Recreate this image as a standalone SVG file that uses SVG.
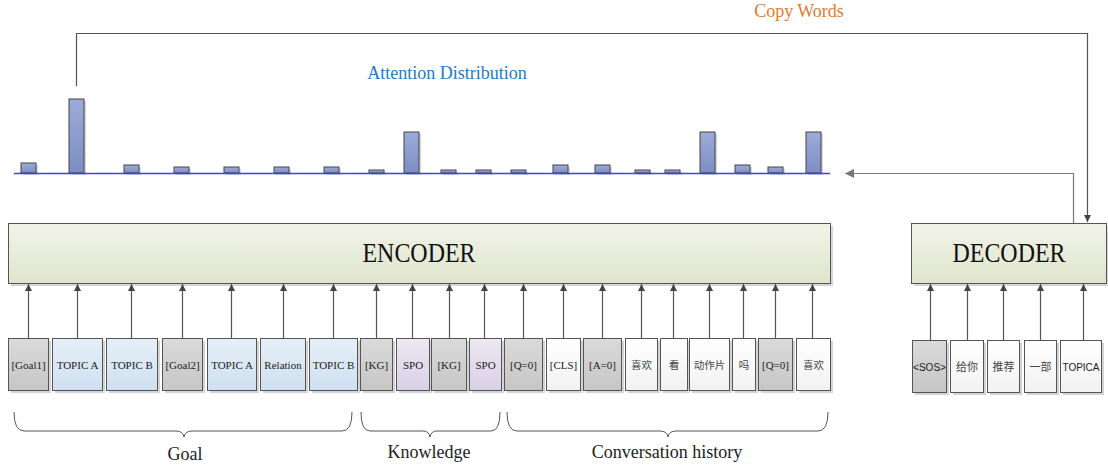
<svg xmlns="http://www.w3.org/2000/svg" width="1108" height="468" viewBox="0 0 1108 468">
<defs>
<linearGradient id="gEnc" x1="0" y1="0" x2="0" y2="1"><stop offset="0" stop-color="#f1f3e8"/><stop offset="1" stop-color="#dfe5cd"/></linearGradient>
<linearGradient id="gGray" x1="0" y1="0" x2="0" y2="1"><stop offset="0" stop-color="#dadada"/><stop offset="1" stop-color="#c6c6c6"/></linearGradient>
<linearGradient id="gBlue" x1="0" y1="0" x2="0" y2="1"><stop offset="0" stop-color="#e6eff8"/><stop offset="1" stop-color="#cfe0f0"/></linearGradient>
<linearGradient id="gPurp" x1="0" y1="0" x2="0" y2="1"><stop offset="0" stop-color="#ede8f3"/><stop offset="1" stop-color="#d9d0e6"/></linearGradient>
<linearGradient id="gWhite" x1="0" y1="0" x2="0" y2="1"><stop offset="0" stop-color="#ffffff"/><stop offset="1" stop-color="#f2f2f2"/></linearGradient>
<linearGradient id="gBar" x1="0" y1="0" x2="0" y2="1"><stop offset="0" stop-color="#9eabd8"/><stop offset="1" stop-color="#7d8dc4"/></linearGradient>
<marker id="ah" viewBox="0 0 8 8" refX="8" refY="4" markerWidth="7" markerHeight="7" markerUnits="userSpaceOnUse" orient="auto"><path d="M0 0 L8 4 L0 8 Z" fill="#444"/></marker>
<marker id="ahg" viewBox="0 0 8 8" refX="8" refY="4" markerWidth="9" markerHeight="9" markerUnits="userSpaceOnUse" orient="auto"><path d="M0 0 L8 4 L0 8 Z" fill="#777"/></marker>
</defs>
<style>
.box{stroke:#555;stroke-width:1}
.sh{fill:#d4d4d4}
.gray{fill:url(#gGray)}
.blue{fill:url(#gBlue)}
.purp{fill:url(#gPurp)}
.white{fill:url(#gWhite)}
.tok{font-family:"Liberation Serif","Noto Sans CJK SC",serif;font-size:11px;fill:#222;text-anchor:middle}
.cjk{font-family:"Noto Sans CJK SC",serif;font-size:10.5px;fill:#444;text-anchor:middle}
.dcjk{font-family:"Noto Sans CJK SC",serif;font-size:11px;fill:#444;text-anchor:middle}
.stok{font-family:"Liberation Sans",sans-serif;font-size:10px;fill:#222;text-anchor:middle}
.big{font-family:"Liberation Serif",serif;font-size:27px;fill:#111;text-anchor:middle}
.lab{font-family:"Liberation Serif",serif;font-size:18px;fill:#222;text-anchor:middle}
.bar{fill:url(#gBar);stroke:#444;stroke-width:1}
.bsh{fill:#d8d8d8}
.up{stroke:#555;stroke-width:1.2;fill:none;marker-end:url(#ah)}
.brace{stroke:#555;stroke-width:1;fill:none}
</style>

<g id="titles">
<text x="799" y="17" style="font-family:'Liberation Serif',serif;font-size:18px;fill:#e07b2e;text-anchor:middle">Copy Words</text>
<text x="447" y="79" style="font-family:'Liberation Serif',serif;font-size:18px;fill:#1b7bc9;text-anchor:middle">Attention Distribution</text>
</g>

<g id="attention">
<g class="bsh">
<rect x="23" y="165" width="15" height="10"/><rect x="71" y="101" width="15" height="74"/><rect x="126" y="167" width="15" height="8"/><rect x="176" y="169" width="15" height="6"/><rect x="226" y="169" width="15" height="6"/><rect x="276" y="169" width="15" height="6"/><rect x="326" y="169" width="15" height="6"/><rect x="371" y="172" width="15" height="3"/><rect x="406" y="134" width="15" height="41"/><rect x="443" y="172" width="15" height="3"/><rect x="478" y="172" width="15" height="3"/><rect x="513" y="172" width="15" height="3"/><rect x="555" y="167" width="15" height="8"/><rect x="597" y="167" width="15" height="8"/><rect x="637" y="172" width="15" height="3"/><rect x="667" y="172" width="15" height="3"/><rect x="702" y="134" width="15" height="41"/><rect x="737" y="167" width="15" height="8"/><rect x="770" y="169" width="15" height="6"/><rect x="808" y="134" width="15" height="41"/>
</g>
<rect class="bar" x="21" y="163" width="15" height="10"/>
<rect class="bar" x="69" y="99" width="15" height="74"/>
<rect class="bar" x="124" y="165" width="15" height="8"/>
<rect class="bar" x="174" y="167" width="15" height="6"/>
<rect class="bar" x="224" y="167" width="15" height="6"/>
<rect class="bar" x="274" y="167" width="15" height="6"/>
<rect class="bar" x="324" y="167" width="15" height="6"/>
<rect class="bar" x="369" y="170" width="15" height="3"/>
<rect class="bar" x="404" y="132" width="15" height="41"/>
<rect class="bar" x="441" y="170" width="15" height="3"/>
<rect class="bar" x="476" y="170" width="15" height="3"/>
<rect class="bar" x="511" y="170" width="15" height="3"/>
<rect class="bar" x="553" y="165" width="15" height="8"/>
<rect class="bar" x="595" y="165" width="15" height="8"/>
<rect class="bar" x="635" y="170" width="15" height="3"/>
<rect class="bar" x="665" y="170" width="15" height="3"/>
<rect class="bar" x="700" y="132" width="15" height="41"/>
<rect class="bar" x="735" y="165" width="15" height="8"/>
<rect class="bar" x="768" y="167" width="15" height="6"/>
<rect class="bar" x="806" y="132" width="15" height="41"/>
<line x1="14" y1="173.5" x2="830" y2="173.5" stroke="#3d3dff" stroke-width="1.3"/>
</g>

<g id="encoder">
<rect x="11" y="226" width="822" height="60" fill="#d6d6d6"/>
<rect class="box" x="8.5" y="223.5" width="822" height="60" fill="url(#gEnc)"/>
<text class="big" x="419" y="262" textLength="113" lengthAdjust="spacingAndGlyphs">ENCODER</text>
</g>

<g id="decoder">
<rect x="914" y="226" width="195" height="60" fill="#d6d6d6"/>
<rect class="box" x="911.5" y="223.5" width="195" height="60" fill="url(#gEnc)"/>
<text class="big" x="1009" y="262" textLength="113" lengthAdjust="spacingAndGlyphs">DECODER</text>
</g>

<g id="encoder-tokens">
<g class="sh">
<rect x="11" y="341" width="40" height="52"/><rect x="55" y="341" width="50" height="52"/><rect x="109" y="341" width="51" height="52"/><rect x="165" y="341" width="40" height="52"/><rect x="210" y="341" width="49" height="52"/><rect x="263" y="341" width="45" height="52"/><rect x="312" y="341" width="48" height="52"/><rect x="363" y="341" width="32" height="52"/><rect x="399" y="341" width="33" height="52"/><rect x="434" y="341" width="35" height="52"/><rect x="472" y="341" width="32" height="52"/><rect x="507" y="341" width="38" height="52"/><rect x="549" y="341" width="34" height="52"/><rect x="586" y="341" width="38" height="52"/><rect x="628" y="341" width="32" height="52"/><rect x="663" y="341" width="27" height="52"/><rect x="692" y="341" width="40" height="52"/><rect x="735" y="341" width="23" height="52"/><rect x="761" y="341" width="34" height="52"/><rect x="799" y="341" width="34" height="52"/>
</g>
<g id="t1"><rect class="box gray" x="8.5" y="338.5" width="40" height="52"/><text class="tok" x="28.5" y="369">[Goal1]</text></g>
<g id="t2"><rect class="box blue" x="52.5" y="338.5" width="50" height="52"/><text class="tok" x="77.5" y="369">TOPIC A</text></g>
<g id="t3"><rect class="box blue" x="106.5" y="338.5" width="51" height="52"/><text class="tok" x="132" y="369">TOPIC B</text></g>
<g id="t4"><rect class="box gray" x="162.5" y="338.5" width="40" height="52"/><text class="tok" x="182.5" y="369">[Goal2]</text></g>
<g id="t5"><rect class="box blue" x="207.5" y="338.5" width="49" height="52"/><text class="tok" x="232" y="369">TOPIC A</text></g>
<g id="t6"><rect class="box blue" x="260.5" y="338.5" width="45" height="52"/><text class="tok" x="283" y="369">Relation</text></g>
<g id="t7"><rect class="box blue" x="309.5" y="338.5" width="48" height="52"/><text class="tok" x="333.5" y="369">TOPIC B</text></g>
<g id="t8"><rect class="box gray" x="360.5" y="338.5" width="32" height="52"/><text class="tok" x="376.5" y="369">[KG]</text></g>
<g id="t9"><rect class="box purp" x="396.5" y="338.5" width="33" height="52"/><text class="tok" x="413" y="369">SPO</text></g>
<g id="t10"><rect class="box gray" x="431.5" y="338.5" width="35" height="52"/><text class="tok" x="449" y="369">[KG]</text></g>
<g id="t11"><rect class="box purp" x="469.5" y="338.5" width="32" height="52"/><text class="tok" x="485.5" y="369">SPO</text></g>
<g id="t12"><rect class="box gray" x="504.5" y="338.5" width="38" height="52"/><text class="tok" x="523.5" y="369">[Q=0]</text></g>
<g id="t13"><rect class="box white" x="546.5" y="338.5" width="34" height="52"/><text class="tok" x="563.5" y="369">[CLS]</text></g>
<g id="t14"><rect class="box gray" x="583.5" y="338.5" width="38" height="52"/><text class="tok" x="602.5" y="369">[A=0]</text></g>
<g id="t15"><rect class="box white" x="625.5" y="338.5" width="32" height="52"/><text class="cjk" x="641.5" y="369">喜欢</text></g>
<g id="t16"><rect class="box white" x="660.5" y="338.5" width="27" height="52"/><text class="cjk" x="674" y="369">看</text></g>
<g id="t17"><rect class="box white" x="689.5" y="338.5" width="40" height="52"/><text class="cjk" x="709.5" y="369">动作片</text></g>
<g id="t18"><rect class="box white" x="732.5" y="338.5" width="23" height="52"/><text class="cjk" x="744" y="369">吗</text></g>
<g id="t19"><rect class="box gray" x="758.5" y="338.5" width="34" height="52"/><text class="tok" x="775.5" y="369">[Q=0]</text></g>
<g id="t20"><rect class="box white" x="796.5" y="338.5" width="34" height="52"/><text class="cjk" x="813.5" y="369">喜欢</text></g>
</g>

<g id="decoder-tokens">
<g class="sh">
<rect x="915" y="343" width="34" height="52"/><rect x="953" y="343" width="33" height="52"/><rect x="990" y="343" width="32" height="52"/><rect x="1027" y="343" width="32" height="52"/><rect x="1063" y="343" width="41" height="52"/>
</g>
<g id="d1"><rect class="box gray" x="912.5" y="340.5" width="34" height="52"/><text class="stok" x="929.5" y="371">&lt;SOS&gt;</text></g>
<g id="d2"><rect class="box white" x="950.5" y="340.5" width="33" height="52"/><text class="dcjk" x="967" y="371">给你</text></g>
<g id="d3"><rect class="box white" x="987.5" y="340.5" width="32" height="52"/><text class="dcjk" x="1003.5" y="371">推荐</text></g>
<g id="d4"><rect class="box white" x="1024.5" y="340.5" width="32" height="52"/><text class="dcjk" x="1040.5" y="371">一部</text></g>
<g id="d5"><rect class="box white" x="1060.5" y="340.5" width="41" height="52"/><text class="stok" x="1081" y="371">TOPICA</text></g>
</g>

<g id="connectors">
<line class="up" x1="28.5" y1="338" x2="28.5" y2="284"/>
<line class="up" x1="77.5" y1="338" x2="77.5" y2="284"/>
<line class="up" x1="131.5" y1="338" x2="131.5" y2="284"/>
<line class="up" x1="182.5" y1="338" x2="182.5" y2="284"/>
<line class="up" x1="231.5" y1="338" x2="231.5" y2="284"/>
<line class="up" x1="283.5" y1="338" x2="283.5" y2="284"/>
<line class="up" x1="333.5" y1="338" x2="333.5" y2="284"/>
<line class="up" x1="376.5" y1="338" x2="376.5" y2="284"/>
<line class="up" x1="412.5" y1="338" x2="412.5" y2="284"/>
<line class="up" x1="449.5" y1="338" x2="449.5" y2="284"/>
<line class="up" x1="484.5" y1="338" x2="484.5" y2="284"/>
<line class="up" x1="523.5" y1="338" x2="523.5" y2="284"/>
<line class="up" x1="563.5" y1="338" x2="563.5" y2="284"/>
<line class="up" x1="602.5" y1="338" x2="602.5" y2="284"/>
<line class="up" x1="641.5" y1="338" x2="641.5" y2="284"/>
<line class="up" x1="673.5" y1="338" x2="673.5" y2="284"/>
<line class="up" x1="709.5" y1="338" x2="709.5" y2="284"/>
<line class="up" x1="743.5" y1="338" x2="743.5" y2="284"/>
<line class="up" x1="775.5" y1="338" x2="775.5" y2="284"/>
<line class="up" x1="812.5" y1="338" x2="812.5" y2="284"/>
<line class="up" x1="930.5" y1="340" x2="930.5" y2="284"/>
<line class="up" x1="967.5" y1="340" x2="967.5" y2="284"/>
<line class="up" x1="1003.5" y1="340" x2="1003.5" y2="284"/>
<line class="up" x1="1040.5" y1="340" x2="1040.5" y2="284"/>
<line class="up" x1="1083.5" y1="340" x2="1083.5" y2="284"/>
<path d="M76.5 86 V33.5 H1087.5 V222" stroke="#555" stroke-width="1.2" fill="none" marker-end="url(#ah)"/>
<path d="M1073.5 223 V173.5 H845" stroke="#777" stroke-width="1.2" fill="none" marker-end="url(#ahg)"/>
</g>

<g id="groups">
<path class="brace" d="M14 412 Q14 431 24 431 H176 Q183 431 184 437 Q185 431 192 431 H342 Q352 431 352 412"/>
<path class="brace" d="M361 412 Q361 431 370 431 H423 Q429 431 430 437 Q431 431 437 431 H491 Q500 431 500 412"/>
<path class="brace" d="M507 412 Q507 431 517 431 H660 Q667 431 668 437 Q669 431 676 431 H818 Q828 431 828 412"/>
<text class="lab" x="185" y="460">Goal</text>
<text class="lab" x="429" y="458">Knowledge</text>
<text class="lab" x="667" y="458">Conversation history</text>
</g>
</svg>
